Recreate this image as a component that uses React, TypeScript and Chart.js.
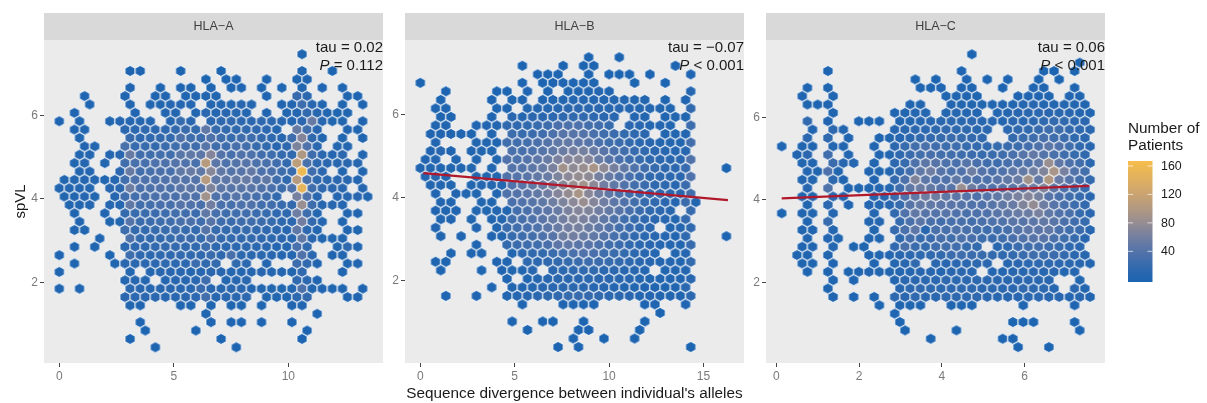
import React, { useEffect, useRef } from "react";
import { Chart, registerables } from "chart.js";

Chart.register(...registerables);

// Each row of a panel is one row of the hexagonal binning, from the top (highest spVL) down.
// A row holds runs: [first bin index, count, count, ...]; consecutive counts are 2 half-bins apart.
const hlaARows: number[][][] = [
  [[48, 5]],
  [],
  [[14, 3, 4], [24, 3], [32, 3], [48, 8], [54, 3]],
  [[29, 3], [33, 3, 3], [41, 3], [47, 5, 6]],
  [[14, 6], [20, 5], [24, 4, 5], [30, 5], [34, 4, 4], [40, 3], [44, 4], [48, 8], [52, 4], [56, 4]],
  [[5, 4], [13, 5], [19, 5, 6], [25, 5, 6, 7, 7], [41, 5], [47, 25, 16], [57, 5, 4]],
  [[6, 4], [14, 7], [18, 7, 8, 9, 9, 10], [30, 10, 9, 10, 12, 10], [44, 6, 9, 28, 12, 7], [56, 8], [60, 4]],
  [[3, 4], [15, 6], [21, 7, 8], [27, 8, 15, 10, 12, 13, 10], [41, 6], [45, 8, 9, 22, 11, 8, 5, 8]],
  [[0, 4], [4, 5], [10, 8, 9, 10, 11, 10], [22, 9, 24, 12], [30, 16, 18, 20, 16, 14, 18, 15, 12, 10, 14, 55, 12, 8], [56, 7], [60, 5]],
  [[3, 6, 7], [13, 14, 16, 18, 16, 18, 22, 26, 22, 50, 24, 22, 20, 20, 18, 16, 10], [47, 55, 30, 12], [57, 6, 7]],
  [[4, 7], [14, 25, 18, 20, 22, 22, 38, 30, 28, 40, 28, 24, 30, 28, 22, 18, 12, 28, 72, 20, 8], [56, 8], [60, 6]],
  [[5, 6, 7], [13, 35, 24, 24, 22, 26, 30, 32, 30, 45, 30, 28, 34, 32, 24, 20, 12], [45, 18, 68, 40, 14], [55, 10, 9]],
  [[4, 8, 8], [10, 9, 12, 55, 30, 30, 32, 30, 45, 50, 48, 72, 42, 34, 40, 38, 30, 28, 22, 20, 100, 28, 14, 10, 14], [60, 9]],
  [[3, 8, 9], [9, 7], [13, 30, 35, 34, 38, 38, 42, 40, 35, 105, 48, 38, 42, 44, 38, 36, 30, 22, 110, 35, 18, 14, 12, 14, 12]],
  [[4, 8, 9], [12, 14, 55, 32, 34, 36, 34, 50, 55, 50, 75, 50, 42, 44, 52, 38, 36, 28, 25, 160, 30, 14], [56, 8], [60, 8]],
  [[1, 8, 9, 9, 10, 8, 10, 30, 38, 38, 38, 40, 44, 42, 42, 105, 50, 48, 52, 56, 42, 50, 30, 20, 105, 35, 18, 16, 14, 12, 10]],
  [[0, 8, 9, 10, 9], [10, 12, 14, 60, 36, 38, 40, 38, 46, 48, 44, 70, 48, 44, 46, 46, 40, 36, 28, 40, 150, 30, 18, 14, 12], [60, 10]],
  [[1, 7, 8, 9, 8], [11, 10, 30, 32, 36, 36, 38, 36, 42, 40, 90, 40, 38, 44, 38, 34, 30, 20], [47, 65, 40, 12], [55, 10, 12, 12, 8]],
  [[2, 7, 8, 9], [10, 10, 10, 50, 32, 32, 34, 34, 42, 40, 36, 62, 36, 34, 38, 40, 30, 30, 24, 22, 85, 28, 12, 12, 10]],
  [[3, 6], [9, 6], [13, 22, 24, 26, 26, 28, 32, 30, 26, 50, 34, 28, 30, 30, 26, 24, 18, 18, 60, 28, 10], [57, 9, 8]],
  [[4, 6], [10, 8, 8, 42, 26, 26, 28, 30, 34, 36, 30, 44, 28, 26, 28, 30, 26, 24, 18, 16, 62, 22, 10], [56, 8]],
  [[3, 6, 7], [13, 28, 22, 22, 24, 26, 28, 24, 22, 44, 24, 22, 22, 24, 20, 18, 14, 12, 50, 16, 8], [57, 8, 7]],
  [[8, 5], [14, 38, 22, 20, 22, 24, 26, 26, 24, 36, 22, 22, 20, 22, 18, 16, 14, 12, 50, 14, 8, 7, 7]],
  [[3, 5], [7, 5], [13, 16, 18, 18, 20, 22, 22, 20, 20, 28, 18, 16, 16, 18, 16, 14, 10, 10, 35, 20], [55, 7, 18, 7]],
  [[0, 4], [10, 5], [14, 28, 18, 16, 18, 18, 22, 20, 20, 26, 18, 34, 16, 14, 14, 12, 10, 10, 40, 14], [54, 6, 7]],
  [[3, 5], [11, 7, 14, 14, 14, 16, 18, 16, 16, 26, 20, 22], [35, 20, 16], [41, 8], [47, 28, 20, 6], [57, 8, 8]],
  [[0, 5], [14, 10], [18, 10, 12, 12, 12, 10, 12, 14, 12, 10, 10, 10, 12, 10, 9, 8], [48, 20], [56, 6]],
  [[13, 10, 12, 9], [21, 10, 12, 12, 14, 28], [33, 10, 12, 14], [47, 20, 16, 6]],
  [[0, 5], [4, 5], [14, 16, 12, 10, 12, 12, 12, 12, 25, 12, 12, 14, 14, 6, 7, 7, 8, 10, 38, 8, 6, 5, 5], [60, 4]],
  [[13, 14, 16, 14, 14, 12, 12, 14, 16, 32, 12, 14, 14, 18], [41, 8, 8, 8, 18, 22], [57, 6, 6]],
  [[14, 7, 6], [24, 5, 5], [30, 6], [34, 5, 5], [40, 5], [46, 6, 7]],
  [[29, 5], [51, 4]],
  [[16, 4], [30, 4], [34, 4, 4], [40, 4], [46, 4]],
  [[17, 3], [27, 3], [49, 3]],
  [[14, 3], [32, 3], [48, 3]],
  [[19, 3], [35, 3]],
];

const hlaBRows: number[][][] = [
  [[33, 3], [39, 3]],
  [[20, 3], [28, 3], [32, 3, 3], [50, 3]],
  [[23, 3, 3, 3], [33, 4], [37, 3, 3, 3], [45, 3], [53, 4]],
  [[0, 3], [20, 3], [24, 3, 4, 4, 4, 4, 5], [42, 3], [48, 3]],
  [[5, 3], [15, 3, 3], [21, 4], [25, 4], [29, 5, 6, 6, 10, 6], [53, 10]],
  [[4, 3], [14, 4], [18, 5, 6], [24, 6, 7, 8, 9, 10, 10, 10, 9, 8, 8, 7], [48, 5], [52, 6]],
  [[3, 4, 5], [15, 4, 5], [21, 10, 10, 11, 12, 14, 14, 14, 14, 12, 12, 10, 10, 9, 8, 7], [53, 20]],
  [[4, 4, 5], [14, 6], [18, 12, 10, 14, 14, 16, 18, 20, 20, 18, 16, 14], [42, 10, 8], [48, 6, 7, 8]],
  [[3, 5, 6], [11, 4, 6, 8, 20, 18, 20, 24, 28, 36, 38, 38, 32, 30, 24], [41, 14, 12, 10, 10, 8], [53, 28]],
  [[2, 6, 6, 6, 5, 5], [14, 8], [18, 28, 24, 26, 30, 38, 44, 44, 42, 36, 30, 26, 22, 18, 14], [48, 8, 8, 8]],
  [[3, 6], [11, 7, 8, 8, 30, 30, 32, 36, 42, 50, 52, 48, 44, 36, 30, 26, 22, 16, 12, 10, 9, 8, 32]],
  [[2, 6, 12, 6], [10, 6, 7, 8], [18, 36, 34, 38, 42, 50, 58, 62, 64, 56, 46, 36, 30, 24, 20, 14, 12, 10, 12]],
  [[1, 6, 10], [7, 7], [11, 8], [15, 8, 40, 38, 42, 48, 56, 66, 72, 74, 72, 56, 44, 34, 28, 24, 18, 14, 12, 14, 40]],
  [[0, 6, 7, 8, 7, 7, 7], [14, 8], [18, 42, 42, 48, 54, 66, 90, 78, 84, 95, 78, 64, 50, 40, 30, 24, 18, 16, 24], [60, 3]],
  [[1, 7, 11, 7], [11, 8, 8, 8, 40, 42, 46, 50, 56, 68, 76, 82, 78, 64, 54, 42, 34, 26, 20, 18, 16, 14, 38]],
  [[2, 7, 8, 7], [10, 8, 9, 9, 9, 40, 44, 50, 56, 66, 74, 84, 90, 76, 62, 50, 40, 32, 26, 20, 18, 12, 26]],
  [[3, 6], [7, 6, 7, 7], [15, 8, 40, 42, 46, 52, 62, 72, 82, 96, 74, 62, 50, 40, 30, 24, 20, 18, 14, 12, 30]],
  [[4, 7, 7], [12, 7, 8], [18, 36, 40, 44, 50, 60, 68, 76, 84, 72, 60, 48, 40, 32, 24, 20, 14, 10, 26, 8]],
  [[3, 6, 7, 6], [11, 7, 8, 9, 8, 32, 36, 42, 48, 56, 66, 72, 70, 62, 52, 44, 34, 26, 20, 16, 12], [53, 24]],
  [[4, 7, 6], [10, 7], [14, 8, 10, 30, 34, 40, 46, 54, 62, 70, 66, 60, 50, 40, 30, 24, 18, 14, 12, 9, 22]],
  [[3, 6], [11, 6], [15, 7, 26, 30, 34, 40, 48, 56, 62, 64, 58, 50, 42, 32, 26, 20, 14], [49, 8, 10, 20]],
  [[4, 6], [8, 5], [14, 6, 7, 24, 28, 32, 38, 44, 60, 62, 56, 50, 42, 34, 26, 20, 16, 12, 10, 8, 18], [60, 3]],
  [[11, 5], [17, 22, 26, 28, 30, 36, 48, 50, 46, 44, 38, 30, 26, 20, 16, 12, 10, 9, 8, 24]],
  [[6, 5], [10, 5, 5], [18, 8, 16, 20, 22, 26, 30, 36, 40, 36, 30, 26, 22, 16, 12, 10], [50, 8, 10]],
  [[3, 5, 5], [15, 6, 8], [21, 18, 16, 20, 22, 24, 26, 28, 26, 24, 22, 18, 14, 12, 10, 9, 8, 22]],
  [[4, 5], [12, 4], [16, 6, 7, 8, 12], [26, 14, 16, 18, 20, 20, 16, 14, 12, 12, 9], [48, 7, 8, 10]],
  [[17, 6], [21, 8, 10, 12, 14, 14, 14, 16, 14, 14, 12, 12, 10, 8, 7, 6, 6, 12]],
  [[14, 4], [18, 6, 8, 10, 12, 14, 14, 14, 14, 12, 12, 10, 8, 8, 6, 6, 5, 5, 14]],
  [[5, 4], [11, 4], [17, 8, 10, 12, 16, 20, 20, 24, 24, 22, 20, 16, 14, 12, 10, 9, 8, 7, 6, 16]],
  [[20, 4], [28, 4, 4, 4, 4], [44, 4, 4], [52, 4]],
  [[47, 3]],
  [[18, 3], [24, 3, 3], [32, 3], [44, 3]],
  [[21, 3], [31, 3, 3], [43, 3]],
  [[30, 3], [36, 3], [42, 3]],
  [[27, 3], [31, 3], [53, 3]],
];

const hlaCRows: number[][][] = [
  [[37, 3]],
  [[58, 3]],
  [[9, 4], [35, 4], [51, 3, 3], [57, 3]],
  [[26, 3], [30, 3], [36, 4], [40, 3], [44, 3], [50, 3], [54, 3]],
  [[5, 4], [9, 5], [27, 4, 4, 4], [35, 4, 5], [43, 3], [49, 4, 5], [57, 5]],
  [[4, 4], [10, 5], [32, 5, 5, 6, 5], [46, 5, 6, 6, 6], [56, 6, 6]],
  [[5, 5, 5, 6], [25, 6, 7], [33, 7, 8, 8, 8, 7, 8, 8, 10, 12, 9, 9, 10, 8, 7]],
  [[10, 5], [22, 6, 8, 9, 10], [32, 9, 11, 10, 10], [42, 9, 10, 12, 14, 16, 14, 14, 12, 10, 8]],
  [[5, 20], [9, 6], [15, 4, 4, 4], [23, 6, 8, 10, 12, 14, 16, 14, 16, 12, 12, 10, 14, 12, 14, 18, 22, 20, 16, 14]],
  [[6, 6], [10, 18, 8], [22, 12, 14, 16, 16, 18, 20, 18, 18, 14, 14], [44, 16, 20, 20, 24, 28, 28, 22, 18, 14]],
  [[5, 16], [9, 20], [13, 6], [19, 5, 7, 10, 14, 20, 22, 24, 26, 24, 22, 20], [45, 22, 26, 28, 34, 30, 26, 20, 16]],
  [[0, 4], [4, 6, 6], [10, 10, 6], [18, 6], [22, 14, 24, 32, 36, 30, 28, 28, 24, 22, 20, 24, 26, 28, 32, 38, 48, 40, 30, 20, 14]],
  [[3, 6, 14], [9, 30], [13, 8], [19, 6, 10, 18, 26, 32, 34, 32, 30, 28, 26, 24, 26, 30, 36, 44, 52, 42, 36, 30, 24, 20]],
  [[4, 8, 8], [10, 26, 12, 9], [18, 7], [22, 16, 24, 38, 48, 44, 38, 36, 44, 36, 30, 28, 34, 36, 40, 50, 85, 50, 38, 32, 16]],
  [[5, 10, 8, 38, 8], [17, 7, 7, 9], [23, 20, 32, 50, 60, 44, 38, 40, 60, 42, 36, 40, 48, 52, 60, 70, 95, 65, 40, 32]],
  [[4, 10, 9], [10, 18, 6], [18, 6], [22, 22, 38, 70, 48, 40, 40, 50, 42, 38, 38, 44, 50, 56, 90, 52, 100, 56, 42, 32, 22]],
  [[5, 12], [9, 40], [13, 6, 8, 8, 8, 10], [23, 28, 50, 58, 52, 44, 44, 85, 58, 44, 40, 44, 46, 50, 60, 70, 48, 38, 30, 24]],
  [[4, 8, 8], [10, 14, 8], [18, 10, 12, 26, 40, 50, 60, 60, 50, 48, 44, 40, 44, 50, 60, 66, 72, 64, 44, 36, 30, 24, 14]],
  [[5, 8], [9, 16], [13, 6], [17, 10, 10, 12, 24, 44, 52, 50, 48, 46, 44, 40, 40, 44, 50, 56, 70, 80, 60, 44, 36, 28, 22]],
  [[0, 3], [4, 6, 8], [10, 10], [18, 10], [22, 20, 40, 50, 44, 42, 44, 40, 36, 38, 40, 46, 50, 56, 58, 66, 50, 40, 36, 24, 14]],
  [[5, 6], [9, 24], [17, 10, 10], [23, 24, 36, 46, 36, 32, 34, 36, 32, 36, 38, 40, 46, 44, 48, 52, 46, 36, 30, 24]],
  [[4, 8, 6], [10, 10], [18, 8], [22, 24, 36, 48, 12, 36, 34, 38, 36, 32, 28, 30, 34, 42, 48, 46, 50, 36, 30, 26, 12]],
  [[5, 6], [9, 10, 8], [17, 8, 8], [23, 18, 32, 24, 26, 34, 30, 38, 34, 28, 26, 30, 36, 40, 44, 44, 36, 30, 24, 12]],
  [[4, 6, 6], [10, 10], [14, 5, 5], [22, 20, 36, 26, 24, 30, 32, 30, 24, 22], [42, 12, 18, 26, 30, 32, 28, 24, 18, 14]],
  [[3, 5, 6], [9, 8], [17, 6, 8, 10], [23, 14, 16, 18, 20, 22, 26, 28, 26, 24, 22, 20, 22, 26, 28, 28, 26, 22, 16, 12]],
  [[4, 5, 5], [10, 6], [18, 6], [22, 10, 14, 20], [30, 14, 12, 14, 14, 18, 14], [44, 12, 14, 16, 18, 18, 16, 14, 12, 10]],
  [[5, 4], [9, 6], [13, 5, 5, 6, 7, 8, 9, 10, 12, 12, 10, 12, 14, 12], [41, 10, 10, 12, 12, 14, 12, 12, 10, 9]],
  [[10, 5], [14, 4], [22, 10, 14, 14, 16, 16, 18, 16, 16, 18, 14, 14, 14, 14, 14, 14, 12], [58, 8]],
  [[9, 5], [23, 12, 16, 20, 18, 16, 16, 18, 18, 14, 16, 14, 16, 20, 16, 16, 10], [57, 14, 8]],
  [[10, 6], [14, 4], [18, 5], [22, 16, 14, 18, 16, 14, 18, 18, 18, 20, 14, 12, 12, 12, 14, 16, 14, 12, 10, 12, 8]],
  [[19, 4], [23, 5, 5, 5], [33, 5, 5, 5], [47, 4], [57, 4]],
  [[22, 4]],
  [[23, 3], [45, 3, 3, 3], [57, 3]],
  [[24, 3], [34, 3], [58, 3]],
  [[29, 3], [43, 3, 3]],
  [[46, 3], [52, 3]],
];

const panelNames = ["HLA−A", "HLA−B", "HLA−C"];
const tauLabels = ["tau = 0.02", "tau = −0.07", "tau = 0.06"];
const pLabels = [" = 0.112", " < 0.001", " < 0.001"];
const xTicksA = [0, 5, 10];
const xTicksB = [0, 5, 10, 15];
const xTicksC = [0, 2, 4, 6];
const yTicks = [2, 4, 6];
const trendB = [{ x: 0.16, y: 4.59 }, { x: 16.3, y: 3.94 }];
const trendC = [{ x: 0.13, y: 4.04 }, { x: 7.56, y: 4.34 }];
const legendTicks = [160, 120, 80, 40];
const legendTitle = ["Number of", "Patients"];
const xTitle = "Sequence divergence between individual's alleles";
const yTitle = "spVL";

const FONT = '"Liberation Sans", Arial, sans-serif';

const colorStops: [number, number[]][] = [
  [1, [28, 100, 177]],
  [20, [48, 105, 174]],
  [40, [80, 114, 170]],
  [60, [110, 125, 162]],
  [80, [146, 139, 148]],
  [100, [175, 152, 130]],
  [120, [201, 163, 114]],
  [167, [247, 190, 76]],
];

function fillColor(v: number): string {
  for (let i = 1; i < colorStops.length; i++) {
    const [v1, c1] = colorStops[i];
    const [v0, c0] = colorStops[i - 1];
    if (v <= v1) {
      const t = Math.max(0, (v - v0) / (v1 - v0));
      const c = c0.map((a, n) => Math.round(a + (c1[n] - a) * t));
      return `rgb(${c[0]},${c[1]},${c[2]})`;
    }
  }
  return "rgb(247,190,76)";
}

const sprites = new Map<string, HTMLCanvasElement>();
function hexSprite(color: string, hw: number, r: number): HTMLCanvasElement {
  const key = `${color}|${hw}|${r}`;
  const hit = sprites.get(key);
  if (hit) return hit;
  const c = document.createElement("canvas");
  c.width = 16;
  c.height = 16;
  const g = c.getContext("2d")!;
  const m = 8;
  g.beginPath();
  g.moveTo(m, m - r);
  g.lineTo(m + hw, m - r / 2);
  g.lineTo(m + hw, m + r / 2);
  g.lineTo(m, m + r);
  g.lineTo(m - hw, m + r / 2);
  g.lineTo(m - hw, m - r / 2);
  g.closePath();
  g.fillStyle = color;
  g.fill();
  g.strokeStyle = "#ffffff";
  g.lineWidth = 0.85;
  g.lineJoin = "round";
  g.stroke();
  sprites.set(key, c);
  return c;
}

function hexPoints(rows: number[][][], xStart: number, xStep: number, yStart: number, yStep: number) {
  const out: { x: number; y: number; c: number }[] = [];
  rows.forEach((runs, k) => {
    runs.forEach((run) => {
      for (let n = 1; n < run.length; n++) {
        const bin = run[0] + (n - 1) * 2;
        out.push({ x: xStart + bin * xStep, y: yStart - k * yStep, c: run[n] });
      }
    });
  });
  return out;
}

type Panel = {
  index: number;
  left: number;
  width: number;
  axisWidth: number;
  padRight: number;
  rows: number[][][];
  xStart: number;
  xStep: number;
  yStart: number;
  yStep: number;
  xMin: number;
  xMax: number;
  yMin: number;
  yMax: number;
  xTicks: number[];
  trend: { x: number; y: number }[] | null;
  showY: boolean;
  showX: boolean;
  legend: boolean;
  hw: number;
  r: number;
};

const panels: Panel[] = [
  { index: 0, left: 0, width: 395, axisWidth: 44, padRight: 12, rows: hlaARows, xStart: 0, xStep: 0.2208, yStart: 7.478, yStep: 0.2012, xMin: -0.668, xMax: 14.135, yMin: 0.058, yMax: 7.82, xTicks: xTicksA, trend: null, showY: true, showX: false, legend: false, hw: 5.05, r: 5.5 },
  { index: 1, left: 385, width: 367, axisWidth: 20, padRight: 8, rows: hlaBRows, xStart: 0, xStep: 0.2703, yStart: 7.371, yStep: 0.2046, xMin: -0.811, xMax: 17.15, yMin: 0.031, yMax: 7.786, xTicks: xTicksB, trend: trendB, showY: false, showX: true, legend: false, hw: 5.1, r: 5.6 },
  { index: 2, left: 746, width: 461, axisWidth: 20, padRight: 102, rows: hlaCRows, xStart: 0.129, xStep: 0.12415, yStart: 7.523, yStep: 0.2023, xMin: -0.25, xMax: 7.94, yMin: 0.058, yMax: 7.869, xTicks: xTicksC, trend: trendC, showY: false, showX: false, legend: true, hw: 5.14, r: 5.5 },
];

function makeChart(canvas: HTMLCanvasElement, p: Panel): Chart {
  const datasets: any[] = [];
  if (p.trend) {
    datasets.push({
      type: "line",
      data: p.trend,
      borderColor: "#B2182B",
      borderWidth: 2.2,
      pointRadius: 0,
      order: 0,
      parsing: true,
    });
  }
  datasets.push({
    type: "scatter",
    data: hexPoints(p.rows, p.xStart, p.xStep, p.yStart, p.yStep),
    pointRadius: 6,
    order: 1,
    pointStyle: (ctx: any) => hexSprite(fillColor(ctx.raw ? ctx.raw.c : 1), p.hw, p.r),
  });

  const panelPlugin = {
    id: "panelDecor",
    beforeDraw(chart: any) {
      const { ctx, chartArea: a } = chart;
      ctx.save();
      ctx.fillStyle = "#EBEBEB";
      ctx.fillRect(a.left, a.top, a.right - a.left, a.bottom - a.top);
      ctx.fillStyle = "#D9D9D9";
      ctx.fillRect(a.left, 13, a.right - a.left, a.top - 13);
      ctx.fillStyle = "#404040";
      ctx.font = `12.5px ${FONT}`;
      ctx.textAlign = "center";
      ctx.textBaseline = "middle";
      ctx.fillText(panelNames[p.index], (a.left + a.right) / 2, 27);
      ctx.restore();
    },
    afterDatasetsDraw(chart: any) {
      const { ctx, chartArea: a } = chart;
      ctx.save();
      ctx.fillStyle = "#1a1a1a";
      ctx.textBaseline = "middle";
      ctx.textAlign = "right";
      ctx.font = `15px ${FONT}`;
      ctx.fillText(tauLabels[p.index], a.right, 48);
      const rest = pLabels[p.index];
      ctx.fillText(rest, a.right, 66);
      const w = ctx.measureText(rest).width;
      ctx.font = `italic 15px ${FONT}`;
      ctx.fillText("P", a.right - w, 66);
      ctx.restore();

      if (p.legend) {
        ctx.save();
        const x0 = 1128 - canvas.offsetLeft;
        const barW = 24.5;
        const top = 161;
        const bottom = 282;
        const perUnit = 0.711;
        const y160 = 166;
        ctx.fillStyle = "#1a1a1a";
        ctx.font = `15.3px ${FONT}`;
        ctx.textAlign = "left";
        ctx.textBaseline = "middle";
        ctx.fillText(legendTitle[0], x0, 129);
        ctx.fillText(legendTitle[1], x0, 146);
        const grad = ctx.createLinearGradient(0, bottom, 0, top);
        for (let i = 0; i <= 20; i++) {
          const t = i / 20;
          grad.addColorStop(t, fillColor(1 + t * 166));
        }
        ctx.fillStyle = grad;
        ctx.fillRect(x0, top, barW, bottom - top);
        ctx.font = `12.4px ${FONT}`;
        legendTicks.forEach((v) => {
          const y = y160 + (160 - v) * perUnit;
          ctx.strokeStyle = "rgba(255,255,255,0.85)";
          ctx.lineWidth = 0.8;
          ctx.beginPath();
          ctx.moveTo(x0, y);
          ctx.lineTo(x0 + 5, y);
          ctx.moveTo(x0 + barW - 5, y);
          ctx.lineTo(x0 + barW, y);
          ctx.stroke();
          ctx.fillStyle = "#1a1a1a";
          ctx.fillText(String(v), x0 + 33, y + 0.5);
        });
        ctx.restore();
      }
    },
  };

  const tickStyle = {
    color: "#7a7a7a",
    font: { family: FONT, size: 12 },
    autoSkip: false,
    maxRotation: 0,
    minRotation: 0,
    padding: 2,
    callback: (v: any) => String(v),
  };
  const grid = { drawOnChartArea: false, drawTicks: true, tickLength: 4, tickColor: "#444444", lineWidth: 1 };

  return new Chart(canvas, {
    type: "scatter",
    data: { datasets },
    plugins: [panelPlugin],
    options: {
      animation: false,
      responsive: false,
      maintainAspectRatio: false,
      layout: { padding: { top: 40, right: p.padRight, bottom: 0, left: 0 } },
      plugins: { legend: { display: false }, tooltip: { enabled: false }, title: { display: false } },
      scales: {
        x: {
          type: "linear",
          min: p.xMin,
          max: p.xMax,
          grid,
          border: { display: false },
          ticks: tickStyle,
          afterBuildTicks: (s: any) => {
            s.ticks = p.xTicks.map((value) => ({ value }));
          },
          afterFit: (s: any) => {
            s.height = 40;
          },
          title: {
            display: p.showX,
            text: xTitle,
            color: "#1a1a1a",
            font: { family: FONT, size: 15.3 },
            padding: { top: 0, bottom: 0 },
          },
        },
        y: {
          type: "linear",
          min: p.yMin,
          max: p.yMax,
          grid,
          border: { display: false },
          ticks: tickStyle,
          afterBuildTicks: (s: any) => {
            s.ticks = yTicks.map((value) => ({ value }));
          },
          afterFit: (s: any) => {
            s.width = p.axisWidth;
          },
          title: {
            display: p.showY,
            text: yTitle,
            color: "#1a1a1a",
            font: { family: FONT, size: 15 },
            padding: { top: 12, bottom: 0 },
          },
        },
      },
    } as any,
  });
}

function PanelCanvas({ panel }: { panel: Panel }) {
  const ref = useRef<HTMLCanvasElement>(null);
  useEffect(() => {
    const chart = makeChart(ref.current!, panel);
    return () => chart.destroy();
  }, [panel]);
  return (
    <canvas
      ref={ref}
      width={panel.width}
      height={403}
      style={{ position: "absolute", left: panel.left, top: 0, width: panel.width, height: 403 }}
    />
  );
}

export default function App() {
  useEffect(() => {
    document.body.style.margin = "0";
    document.body.style.background = "#ffffff";
  }, []);
  return (
    <div style={{ position: "fixed", left: 0, top: 0, width: 1207, height: 403, overflow: "hidden", background: "#ffffff" }}>
      {panels.map((p) => (
        <PanelCanvas key={p.index} panel={p} />
      ))}
    </div>
  );
}
